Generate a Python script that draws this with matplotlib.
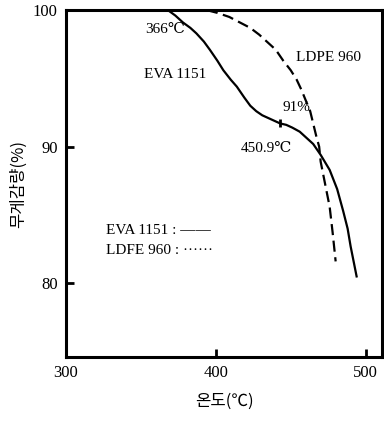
import numpy as np
import matplotlib.pyplot as plt

plt.rcParams['font.family'] = ['Liberation Serif', 'DejaVu Serif']
kfont = ['Noto Sans CJK KR', 'DejaVu Sans']

# EVA 1151 (solid)
eva_x = np.array([300, 340, 362, 368, 373, 378, 383, 387, 392, 396, 401, 405, 410, 414, 419, 423,
                  427, 431, 437, 443, 447, 451, 456, 460, 465, 470, 476, 481, 485, 488, 490, 492, 494])
eva_y = np.array([100, 100, 100, 100, 99.6, 99.1, 98.7, 98.3, 97.7, 97.1, 96.3, 95.6, 94.9, 94.4, 93.6, 93.0,
                  92.6, 92.3, 92.0, 91.7, 91.6, 91.4, 91.1, 90.7, 90.2, 89.4, 88.3, 86.9, 85.3, 84.0, 82.7, 81.6, 80.5])

# LDPE 960 (dashed)
ldpe_x = np.array([394, 401, 409, 416, 423, 429, 434, 440, 445, 450, 454, 457, 460, 463, 465, 467, 469, 470, 472, 474, 476, 478, 480])
ldpe_y = np.array([100, 99.8, 99.5, 99.1, 98.7, 98.2, 97.7, 97.1, 96.3, 95.6, 94.9, 94.2, 93.4, 92.6, 91.7, 90.8, 90.0, 88.9, 87.8, 86.7, 85.6, 83.7, 81.6])

fig = plt.figure(figsize=(3.84, 4.22), dpi=100)
ax = fig.add_axes([0.172, 0.154, 0.823, 0.822])

ax.plot(eva_x, eva_y, color='black', lw=1.6, solid_joinstyle='round')
ax.plot(ldpe_x, ldpe_y, color='black', lw=1.6, linestyle=(0, (5, 2.5)))
ax.plot([443], [91.7], marker='|', color='black', markersize=6, mew=2)

ax.set_xlim(300, 511)
ax.set_ylim(74.6, 100)
ax.set_xticks([300, 400, 500])
ax.set_yticks([80, 90, 100])
ax.tick_params(direction='in', length=6, width=2, labelsize=12, pad=6)
for s in ax.spines.values():
    s.set_linewidth(2.2)

ax.text(366, 98.6, '366℃', fontsize=11, ha='center', va='center')
ax.text(475, 96.5, 'LDPE 960', fontsize=11, ha='center', va='center')
ax.text(373, 95.3, 'EVA 1151', fontsize=11, ha='center', va='center')
ax.text(454, 92.9, '91%', fontsize=11, ha='center', va='center')
ax.text(434, 89.9, '450.9℃', fontsize=11, ha='center', va='center')
ax.text(327, 83.9, 'EVA 1151 : ——', fontsize=11, ha='left', va='center')
ax.text(327, 82.4, 'LDFE 960 : ······', fontsize=11, ha='left', va='center')

ax.set_xlabel('온도(℃)', family=kfont, fontsize=12, labelpad=8)
ax.set_ylabel('무게감량(%)', family=kfont, fontsize=12, labelpad=4)

plt.savefig('out.png', dpi=100)
